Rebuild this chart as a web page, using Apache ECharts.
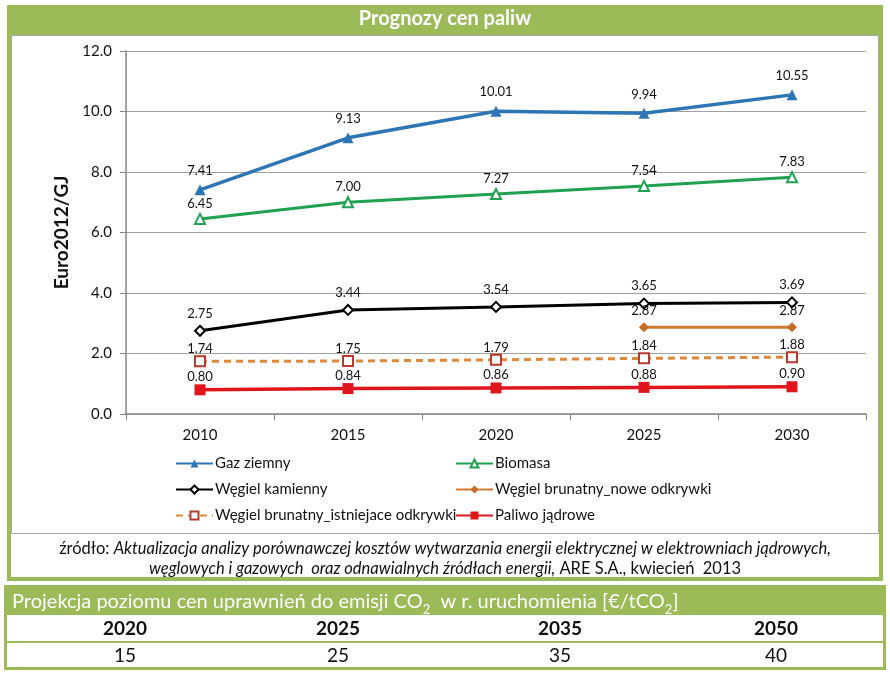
<!DOCTYPE html>
<html><head><meta charset="utf-8">
<script src="https://cdn.jsdelivr.net/npm/echarts@6/dist/echarts.min.js"></script>
<style>html,body{margin:0;padding:0;background:#fff}#c{width:890px;height:674px}</style>
</head><body><div id="c"></div>
<script>
const years = ['2010','2015','2020','2025','2030'];
const yTicks = [0, 2, 4, 6, 8, 10, 12];
const gaz = [7.41, 9.13, 10.01, 9.94, 10.55];
const biomasa = [6.45, 7.00, 7.27, 7.54, 7.83];
const kamienny = [2.75, 3.44, 3.54, 3.65, 3.69];
const brunatnyNowe = [null, null, null, 2.87, 2.87];
const brunatnyIstn = [1.74, 1.75, 1.79, 1.84, 1.88];
const jadrowe = [0.80, 0.84, 0.86, 0.88, 0.90];
const co2Years = ['2020','2025','2035','2050'];
const co2Values = [15, 25, 35, 40];

const FONT = 'Lato, "Open Sans", sans-serif';
const GREEN = '#9BBB59';

const chart = echarts.init(document.getElementById('c'), null, {renderer:'canvas'});

function lbl(d){ return {show:true, position:'top', distance:d, color:'#111', fontSize:13, fontFamily:FONT, formatter:p=>p.value==null?'':Number(p.value).toFixed(2)}; }

const colX = [125, 338, 560, 776];
const tableGraphics = [];
co2Years.forEach((y,i)=>{
  tableGraphics.push({type:'text', z:10, style:{text:y, x:colX[i], y:629, textAlign:'center', textVerticalAlign:'middle', font:'bold 19px '+FONT, fill:'#111'}});
  tableGraphics.push({type:'text', z:10, style:{text:String(co2Values[i]), x:colX[i], y:656, textAlign:'center', textVerticalAlign:'middle', font:'19px '+FONT, fill:'#111'}});
});

const option = {
  backgroundColor:'#fff',
  animation:false,
  graphic:[
    {type:'rect', z:-10, shape:{x:7,y:5,width:876,height:576}, style:{fill:GREEN}},
    {type:'rect', z:-9, shape:{x:11,y:35,width:868,height:542}, style:{fill:'#fff'}},
    {type:'rect', z:-8, shape:{x:11.5,y:35.5,width:867,height:498}, style:{fill:'#fff', stroke:'#A6A6A6', lineWidth:1}},
    {type:'text', z:10, style:{text:'Prognozy cen paliw', x:445, y:19, textAlign:'center', textVerticalAlign:'middle', font:'bold 20px '+FONT, fill:'#fff'}},
    {type:'text', z:10, style:{
      x:445, y:559, textAlign:'center', textVerticalAlign:'middle',
      text:'{n|źródło: }{i|Aktualizacja analizy porównawczej kosztów wytwarzania energii elektrycznej w elektrowniach jądrowych,}\n{i|węglowych i gazowych  oraz odnawialnych źródłach energii,}{n| ARE S.A., kwiecień  2013}',
      rich:{ n:{font:'16.5px '+FONT, fill:'#111', lineHeight:20}, i:{font:'italic 16.5px '+FONT, fill:'#111', lineHeight:20} }
    }},
    {type:'rect', z:-10, shape:{x:4,y:585,width:882,height:85}, style:{fill:GREEN}},
    {type:'rect', z:-9, shape:{x:7,y:615,width:876,height:26}, style:{fill:'#fff'}},
    {type:'rect', z:-9, shape:{x:7,y:643,width:876,height:24}, style:{fill:'#fff'}},
    {type:'text', z:10, style:{
      x:12, y:600, textAlign:'left', textVerticalAlign:'middle',
      text:'{t|Projekcja poziomu cen uprawnień do emisji CO}{s|2}{t|  w r. uruchomienia [€/tCO}{s|2}{t|]}',
      rich:{ t:{font:'20px '+FONT, fill:'#fff', lineHeight:24, verticalAlign:'bottom'}, s:{font:'13px '+FONT, fill:'#fff', lineHeight:24, verticalAlign:'bottom', padding:[0,0,-4,0]} }
    }},
    ...tableGraphics
  ],
  grid:{left:126, right:24, top:51, bottom:260, containLabel:false},
  legend:[
    {orient:'vertical', left:170, top:451, itemGap:11, itemWidth:37, itemHeight:10,
     data:['Gaz ziemny','Węgiel kamienny','Węgiel brunatny_istniejace odkrywki'],
     textStyle:{fontSize:15, fontFamily:FONT, color:'#111', padding:[0,0,0,-3]}},
    {orient:'vertical', left:450, top:451, itemGap:11, itemWidth:37, itemHeight:10,
     data:['Biomasa','Węgiel brunatny_nowe odkrywki','Paliwo jądrowe'],
     textStyle:{fontSize:15, fontFamily:FONT, color:'#111', padding:[0,0,0,-3]}}
  ],
  xAxis:{type:'category', data:years, boundaryGap:true,
    axisLine:{lineStyle:{color:'#868686', width:1.5}},
    axisTick:{show:true, length:6, lineStyle:{color:'#868686'}},
    axisLabel:{fontSize:15, fontFamily:FONT, color:'#111', margin:14}},
  yAxis:{type:'value', min:0, max:12, interval:2,
    name:'Euro2012/GJ', nameLocation:'middle', nameGap:52,
    nameTextStyle:{fontSize:19, fontWeight:'bold', fontFamily:FONT, color:'#111'},
    axisLine:{show:true, lineStyle:{color:'#868686', width:1.5}},
    axisTick:{show:true, length:6, inside:false, lineStyle:{color:'#868686'}},
    splitLine:{lineStyle:{color:'#A0A0A0', width:1}},
    axisLabel:{fontSize:15, fontFamily:FONT, color:'#111', margin:14, formatter:v=>yTicks.includes(v)?v.toFixed(1):''}},
  series:[
    {name:'Gaz ziemny', type:'line', data:gaz, symbol:'triangle', symbolSize:11,
     lineStyle:{color:'#2E75B6', width:3.5}, itemStyle:{color:'#2E75B6'}, label:lbl(7)},
    {name:'Biomasa', type:'line', data:biomasa, symbol:'emptyTriangle', symbolSize:10,
     lineStyle:{color:'#20A150', width:3}, itemStyle:{color:'#20A150', borderWidth:1.2}, label:lbl(3)},
    {name:'Węgiel kamienny', type:'line', data:kamienny, symbol:'emptyDiamond', symbolSize:10,
     lineStyle:{color:'#000', width:3}, itemStyle:{color:'#000', borderWidth:1.2}, label:lbl(5)},
    {name:'Węgiel brunatny_nowe odkrywki', type:'line', data:brunatnyNowe, symbol:'diamond', symbolSize:10,
     lineStyle:{color:'#D07A30', width:3}, itemStyle:{color:'#C46C24'}, label:lbl(5)},
    {name:'Węgiel brunatny_istniejace odkrywki', type:'line', data:brunatnyIstn, symbol:'emptyRect', symbolSize:10,
     lineStyle:{color:'#E0883A', width:3, type:[7,5]}, itemStyle:{color:'#B83A2E', borderWidth:1.2}, label:lbl(0)},
    {name:'Paliwo jądrowe', type:'line', data:jadrowe, symbol:'rect', symbolSize:11,
     lineStyle:{color:'#E0161C', width:3.5}, itemStyle:{color:'#E0161C'}, label:lbl(1)}
  ]
};
chart.setOption(option);
</script></body></html>
